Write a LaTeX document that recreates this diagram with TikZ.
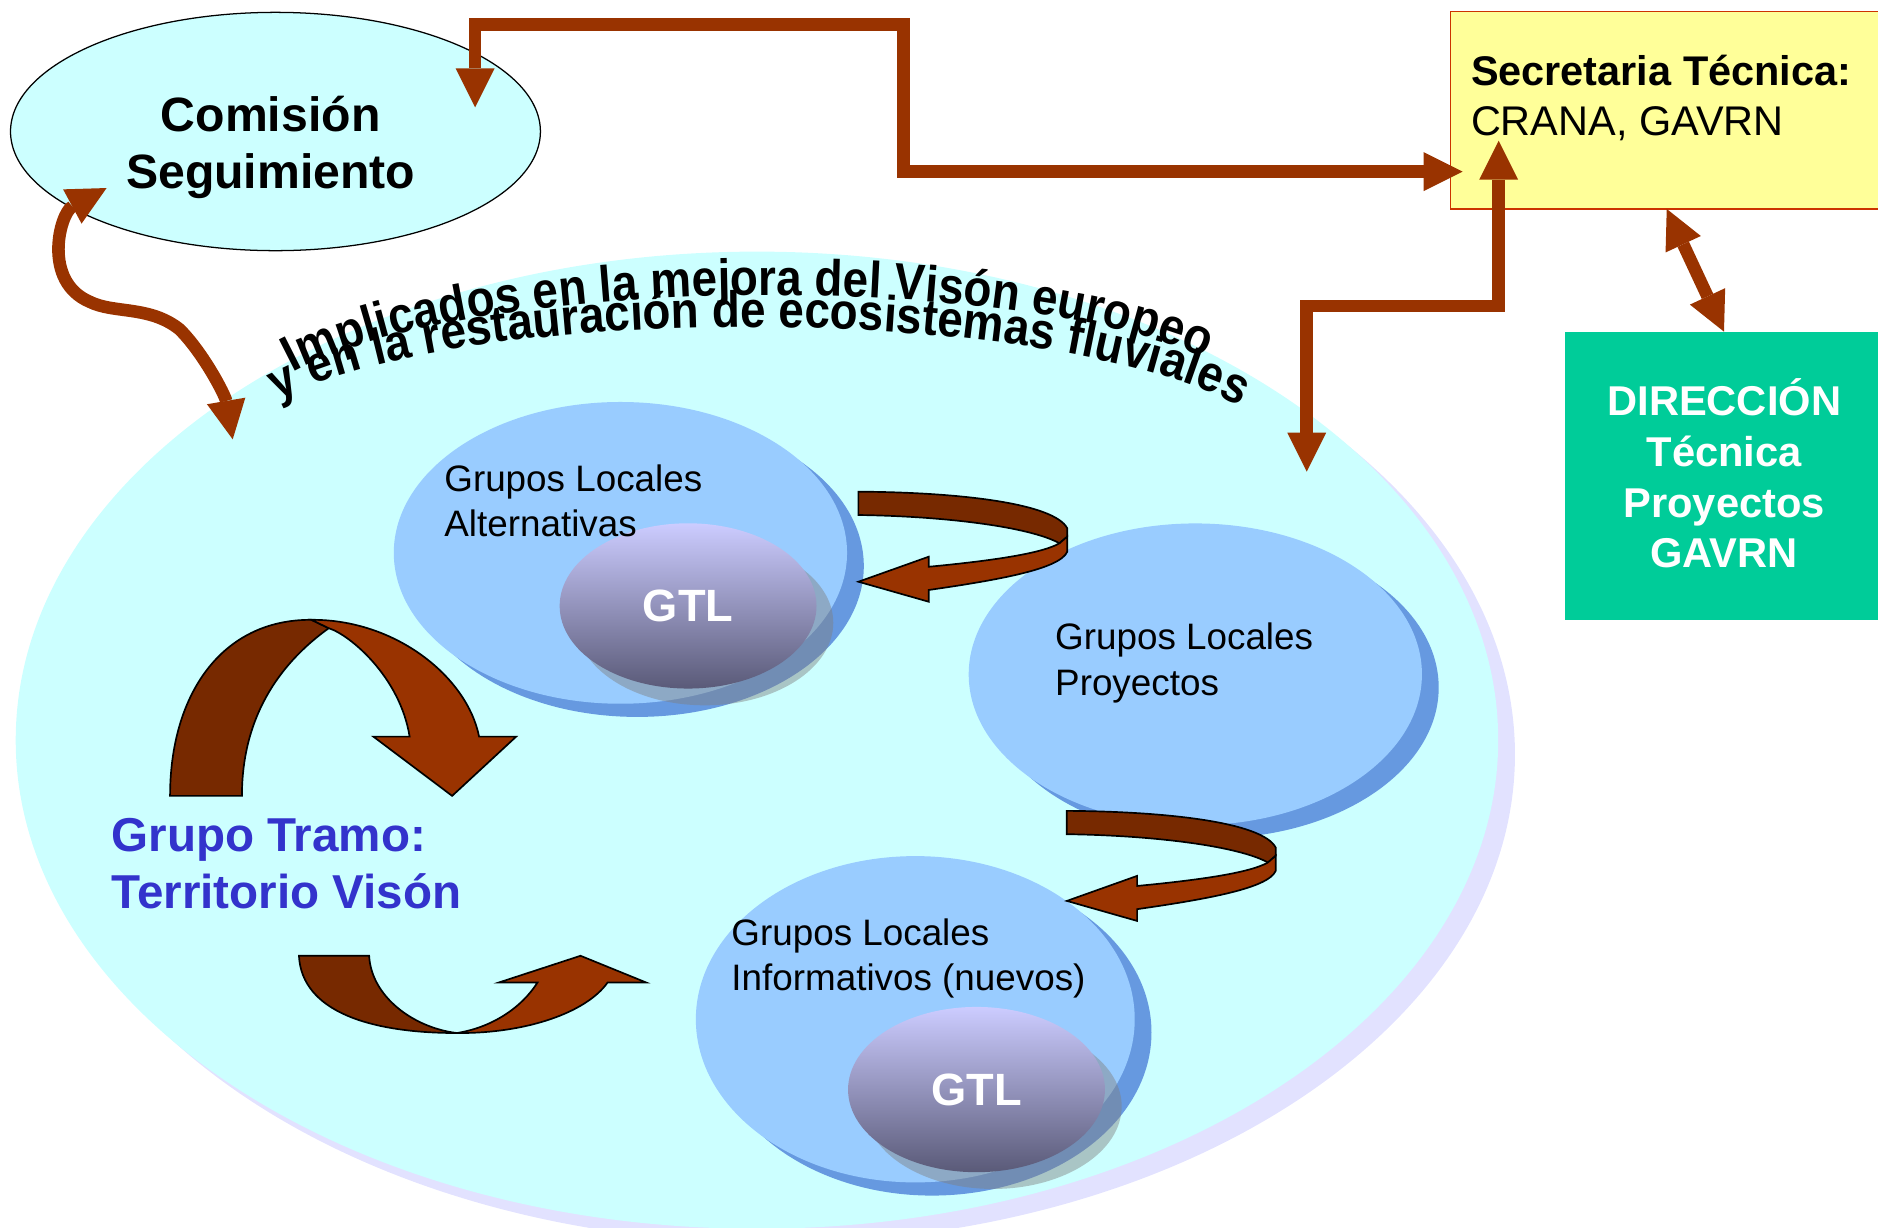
\documentclass[tikz,border=0pt]{standalone}
\usepackage{fontspec}
\setmainfont{Liberation Sans}
\newfontfamily\arcfam{Liberation Sans}[FakeStretch=0.9]
\usetikzlibrary{shapes,arrows.meta,positioning,calc,shadows,decorations.text}

\definecolor{zonacyan}{HTML}{CCFFFF}
\definecolor{zonashadow}{HTML}{E2E2FF}
\definecolor{grupoblue}{HTML}{99CCFF}
\definecolor{gruposhadow}{HTML}{6699E0}
\definecolor{gtltop}{HTML}{CCCCFF}
\definecolor{gtlbot}{HTML}{5A5A78}
\definecolor{flecha}{HTML}{993300}
\definecolor{flechaback}{HTML}{772900}
\definecolor{tramoblue}{HTML}{3333CC}
\definecolor{secyellow}{HTML}{FFFF99}
\definecolor{secborder}{HTML}{CC3300}
\definecolor{direccion}{HTML}{00CC99}

\newcommand{\arcfont}{\arcfam\fontsize{24.2}{24.2}\selectfont\bfseries}
% ribbon arrow, back part dark, front part light
\newcommand{\twistarrow}{%
\draw[ribbonback] (716.7,410.5) .. controls (800,411) and (880,420) .. (891.1,441.1) -- (891.1,448) -- (884.6,453.6) .. controls (860,440) and (790,431) .. (716.7,430) -- cycle;
\draw[ribbonfront] (884.6,453.6) -- (891.1,448) -- (891.1,460.6) .. controls (885,475) and (835,484) .. (775.4,492.6) -- (775.4,502.4) -- (716.7,485.7) -- (775.4,464.8) -- (775.4,473.2) .. controls (830,468) and (870,462) .. (884.6,453.6) -- cycle;
}

\begin{document}
\begin{tikzpicture}[x=0.02cm,y=-0.02cm,every node/.style={outer sep=0pt,inner sep=0pt}]
\tikzstyle{zona}=[ellipse,fill=zonacyan,minimum width=24.76cm,minimum height=16.32cm,
drop shadow={shadow xshift=0.28cm,shadow yshift=-0.24cm,fill=zonashadow,opacity=1}]
\tikzstyle{grupo}=[ellipse,fill=grupoblue,minimum width=7.57cm,minimum height=5.04cm,
drop shadow={shadow xshift=0.28cm,shadow yshift=-0.22cm,fill=gruposhadow,opacity=1}]
\tikzstyle{gtl}=[ellipse,top color=gtltop,bottom color=gtlbot,minimum width=4.29cm,
minimum height=2.76cm,text=white,font=\fontsize{21.5}{21.5}\selectfont\bfseries,
drop shadow={shadow xshift=0.28cm,shadow yshift=-0.28cm,fill=gray,opacity=0.45}]
\tikzstyle{grupolabel}=[anchor=base west,align=left,font=\fontsize{17.5}{21.5}\selectfont]
\tikzstyle{ribbonback}=[draw=black,line width=0.8pt,fill=flechaback]
\tikzstyle{ribbonfront}=[draw=black,line width=0.8pt,fill=flecha]
\tikzstyle{enlace}=[draw=flecha,line width=0.21cm,
{Triangle[width=0.65cm,length=0.65cm,line width=0pt]}-{Triangle[width=0.65cm,length=0.65cm,line width=0pt]}]
\useasboundingbox (0,0) rectangle (1568,1025.2);
%
\node[zona] (zona) at (632,618) {};
\path[decorate,decoration={text along path,text align=center,
text={|\arcfont|Implicados en la mejora del Visón europeo}}]
(189.7,344.6) -- (232,318) .. controls (380,225) and (870,225) .. (1018,305) -- (1062,328.8);
\path[decorate,decoration={text along path,text align=center,
text={|\arcfont|y en la restauración de ecosistemas fluviales}}]
(179.3,366) -- (222,340) .. controls (370,250) and (890,250) .. (1045,345) -- (1087.6,371.1);
%
\node[grupo] (alt) at (518,461.6) {};
\node[gtl] (gtla) at (574.5,505.9) {GTL};
\node[grupolabel] (altlab) at (371,448.1) {Grupos Locales\\Alternativas};
\node[grupo] (proy) at (998,563) {};
\node[grupolabel] (proylab) at (881,580.3) {Grupos Locales\\Proyectos};
\node[grupo,minimum width=7.33cm,minimum height=5.45cm] (inf) at (764.2,851) {};
\node[gtl] (gtlb) at (815.3,909.7) {GTL};
\node[grupolabel] (inflab) at (610.7,827.4) {Grupos Locales\\Informativos (nuevos)};
%
\twistarrow
\begin{scope}[shift={(174,266.5)}]
\twistarrow
\end{scope}
%
\draw[ribbonback] (142,664.5) .. controls (142,580) and (185,517) .. (260,517.5) -- (274.5,524.5) .. controls (232,555) and (202,600) .. (202,664.5) -- cycle;
\draw[ribbonfront] (260,517.5) .. controls (330,517) and (390,565) .. (400,615) -- (431,615) -- (377.5,664.5) -- (311.7,615) -- (342,615) .. controls (334,565) and (292,530) .. (274.5,524.5) -- cycle;
\draw[ribbonback] (249.6,798) .. controls (252,845) and (310,862.5) .. (381.4,862.5) .. controls (345,858) and (310,832) .. (308.2,798) -- cycle;
\draw[ribbonfront] (381.4,862.5) .. controls (440,863) and (490,845) .. (507.3,820.3) -- (539.5,820.3) -- (484.7,798) -- (416.5,820.3) -- (448.8,820.3) .. controls (435,842) and (410,858) .. (381.4,862.5) -- cycle;
\node[anchor=base west,align=left,text=tramoblue,font=\fontsize{22.6}{26.9}\selectfont\bfseries] (tramo) at (93.2,758.4) {Grupo Tramo:\\Territorio Visón};
%
\node[ellipse,draw=black,line width=0.6pt,fill=zonacyan,minimum width=8.85cm,minimum height=3.98cm] (com) at (230,109.8) {};
\node[anchor=base,align=center,font=\fontsize{22.9}{27.1}\selectfont\bfseries] (comlab) at (226,157.8) {Comisión\\Seguimiento};
\node[draw=secborder,fill=secyellow,line width=0.7pt,anchor=north west,minimum width=7.4cm,minimum height=3.296cm] (sec) at (1211,9.7) {};
\node[anchor=base west,align=left,font=\fontsize{19.7}{24.1}\selectfont] (seclab) at (1228.2,113.5) {\textbf{Secretaria Técnica:}\\CRANA, GAVRN};
\node[fill=direccion,anchor=north west,minimum width=5.5cm,minimum height=4.812cm] (dir) at (1306.7,276.9) {};
\node[anchor=base,align=center,text=white,font=\fontsize{19.8}{24.2}\selectfont\bfseries] (dirlab) at (1439.6,474.2) {DIRECCIÓN\\Técnica\\Proyectos\\GAVRN};
%
\coordinate (comin) at (396.7,89.6);
\coordinate (secin) at (1221.1,143.3);
\coordinate (secup) at (1251.3,117.5);
\coordinate (zonain) at (1091,393.8);
\coordinate (comout) at (89,157);
\coordinate (zonaleft) at (194.3,366.8);
\draw[enlace] (comin) |- (754.4,20.6) |- (secin);
\draw[enlace] (secup) |- (1091,255.5) -- (zonain);
\draw[enlace] (1391.6,0 |- sec.south) -- (1439.4,0 |- dir.north);
\draw[enlace] (comout) .. controls (50,178) and (35,235) .. (75,252) .. controls (95,262) and (125,255) .. (150,275) .. controls (170,295) and (188,330) .. (zonaleft);
\end{tikzpicture}
\end{document}
